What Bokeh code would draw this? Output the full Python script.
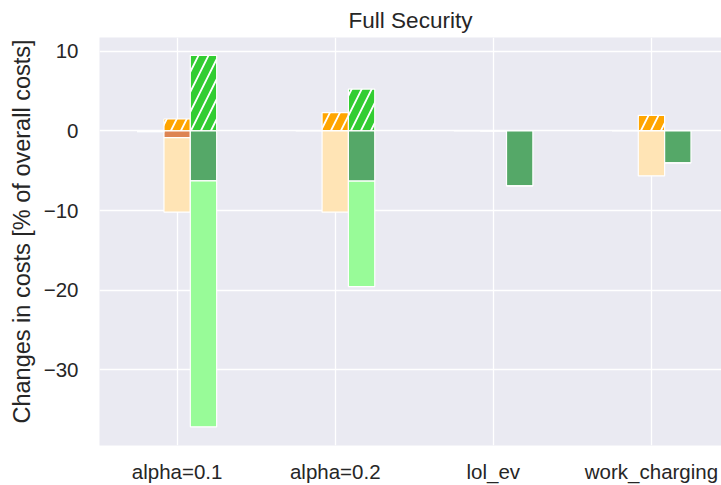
import numpy as np
from bokeh.plotting import figure
from bokeh.models import FixedTicker, Range1d, Title
from bokeh.embed import file_html
from bokeh.resources import INLINE

# ---- data ----
categories = ["alpha=0.1", "alpha=0.2", "lol_ev", "work_charging"]

# left group (orange family), centred on the category
orange_pos_hatched = [1.5, 2.3, 0.0, 1.97]
orange_neg_dark = [-0.83, 0.0, 0.0, 0.0]
orange_neg_light = [-9.36, -10.2, 0.0, -5.64]

# right group (green family), one bar width to the right
green_pos_hatched = [9.5, 5.26, 0.0, 0.0]
green_neg_dark = [-6.27, -6.3, -6.89, -4.0]
green_neg_light = [-30.9, -13.25, 0.0, 0.0]

# far-left group (almost zero)
other_neg = [-0.15, 0.0, 0.0, 0.0]

y_ticks = [10, 0, -10, -20, -30]
y_tick_labels = ["10", "0", "\u221210", "\u221220", "\u221230"]

# ---- styling ----
FONT = "Liberation Sans"
TXT = "#262626"
BG = "#EAEAF2"
W = 1.0 / 6.0

x = np.arange(len(categories), dtype=float)

p = figure(width=721, height=485,
           x_range=Range1d(-0.491, 3.443), y_range=Range1d(-39.51, 11.74),
           output_backend="svg", toolbar_location=None,
           min_border_left=99, min_border_right=0,
           min_border_top=37, min_border_bottom=39,
           title="Full Security")

p.background_fill_color = BG
p.border_fill_color = "white"
p.outline_line_color = None

p.title.align = "center"
p.title.text_font = FONT
p.title.text_font_size = "22.5px"
p.title.text_font_style = "normal"
p.title.text_color = TXT
p.title.standoff = 10

# y-axis label (as a left title so that it can sit where the reference has it)
ylab = Title(text="Changes in costs [% of overall costs]", align="left",
             offset=22, standoff=12, text_font=FONT, text_font_size="23.5px",
             text_font_style="normal", text_color=TXT)
p.add_layout(ylab, "left")


def bars(xpos, bottom, top, color, hatched=False):
    kw = dict(x=xpos, bottom=bottom, top=top, width=W,
              fill_color=color, line_color="white", line_width=1.2)
    if hatched:
        kw.update(hatch_pattern="/", hatch_color="white",
                  hatch_scale=20, hatch_weight=1.8, hatch_alpha=1.0)
    p.vbar(**kw)


zero = np.zeros(len(categories))

# orange group
op = np.array(orange_pos_hatched)
od = np.array(orange_neg_dark)
ol = np.array(orange_neg_light)
bars(x, zero, op, "#FFA500", hatched=True)
bars(x, zero, od, "#DD8452")
bars(x, od, od + ol, "#FFE4B5")

# green group
gp = np.array(green_pos_hatched)
gd = np.array(green_neg_dark)
gl = np.array(green_neg_light)
bars(x + W, zero, gp, "#32CD32", hatched=True)
bars(x + W, zero, gd, "#55A868")
bars(x + W, gd, gd + gl, "#98FB98")

# far-left group
bars(x - W, zero, np.array(other_neg), "#4C72B0")

# ---- axes ----
p.xaxis.ticker = FixedTicker(ticks=list(x))
p.xaxis.major_label_overrides = {float(i): c for i, c in enumerate(categories)}
p.yaxis.ticker = FixedTicker(ticks=y_ticks)
p.yaxis.major_label_overrides = {t: l for t, l in zip(y_ticks, y_tick_labels)}

for ax in (p.xaxis, p.yaxis):
    ax.axis_line_color = None
    ax.major_tick_line_color = None
    ax.minor_tick_line_color = None
    ax.major_tick_out = 0
    ax.major_tick_in = 0
    ax.major_label_text_font = FONT
    ax.major_label_text_font_size = "20.5px"
    ax.major_label_text_color = TXT

p.xaxis.major_label_standoff = 14
p.yaxis.major_label_standoff = 21

p.xgrid.grid_line_color = "white"
p.ygrid.grid_line_color = "white"
p.xgrid.grid_line_width = 1.3
p.ygrid.grid_line_width = 1.3
p.xgrid.ticker = FixedTicker(ticks=list(x))
p.ygrid.ticker = FixedTicker(ticks=y_ticks)

open("out.html", "w").write(file_html(p, INLINE))
